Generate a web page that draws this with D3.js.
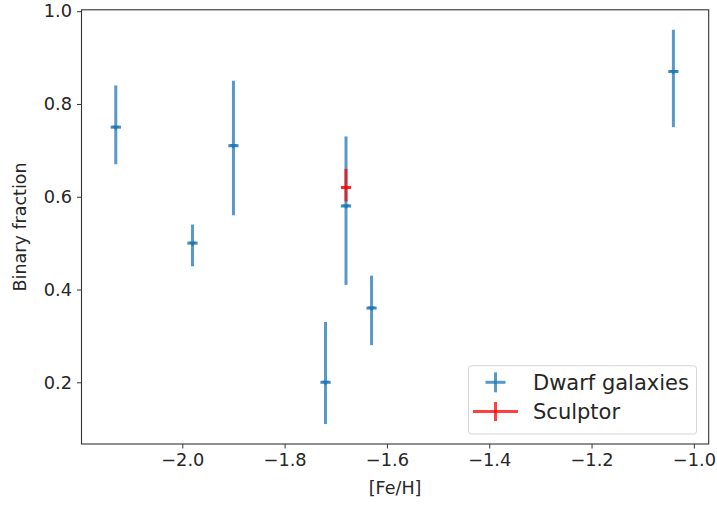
<!DOCTYPE html>
<html>
<head>
<meta charset="utf-8">
<script src="https://cdn.jsdelivr.net/npm/d3@7"></script>
<style>
  html, body { margin: 0; padding: 0; background: #fff; }
  svg { display: block; }
  text { font-family: "DejaVu Sans", sans-serif; fill: #262626; }
</style>
</head>
<body>
<svg id="chart" width="717" height="506"></svg>
<script>
// Dwarf galaxy binary fractions versus metallicity
const galaxyFeH   = [-2.13, -1.98, -1.90, -1.68, -1.63, -1.72, -1.04];
const galaxyFrac  = [0.75, 0.50, 0.71, 0.58, 0.36, 0.20, 0.87];
const galaxyErrUp = [0.09, 0.04, 0.14, 0.15, 0.07, 0.13, 0.09];
const galaxyErrLo = [0.08, 0.05, 0.15, 0.17, 0.08, 0.09, 0.12];
const galaxyXErr  = [0.01, 0.01, 0.01, 0.01, 0.01, 0.01, 0.01];

// Sculptor
const sculptorFeH   = [-1.68];
const sculptorFrac  = [0.62];
const sculptorErrUp = [0.04];
const sculptorErrLo = [0.03];
const sculptorXErr  = [0.01];

const xTicks = [-2.0, -1.8, -1.6, -1.4, -1.2, -1.0];
const yTicks = [0.2, 0.4, 0.6, 0.8, 1.0];
const seriesNames = ["Dwarf galaxies", "Sculptor"];

const blue = "#1f77b4", red = "#ff0000";
const plot = { left: 81.5, right: 708.7, top: 9.8, bottom: 444 };

const svg = d3.select("#chart");
const x = d3.scaleLinear().domain([-2.197, -0.971]).range([plot.left, plot.right]);
const y = d3.scaleLinear().domain([0.067, 1.003]).range([plot.bottom, plot.top]);

const fmt = d => d3.format(".1f")(d).replace("-", "\u2212");

// axes
const xAxis = svg.append("g")
  .attr("transform", `translate(0,${plot.bottom})`)
  .call(d3.axisBottom(x).tickValues(xTicks).tickFormat(fmt).tickSizeOuter(0).tickSize(4.5).tickPadding(5));
const yAxis = svg.append("g")
  .attr("transform", `translate(${plot.left},0)`)
  .call(d3.axisLeft(y).tickValues(yTicks).tickFormat(fmt).tickSizeOuter(0).tickSize(4.5).tickPadding(5));
[xAxis, yAxis].forEach(a => {
  a.select(".domain").remove();
  a.selectAll(".tick line").attr("stroke", "#333").attr("stroke-width", 1);
  a.selectAll(".tick text").style("font-size", "17.8px").attr("fill", "#262626");
});

// frame
svg.append("rect")
  .attr("x", plot.left).attr("y", plot.top)
  .attr("width", plot.right - plot.left).attr("height", plot.bottom - plot.top)
  .attr("fill", "none").attr("stroke", "#333").attr("stroke-width", 1.1);

function drawSeries(fx, fy, up, lo, xe, color, withMarker) {
  const g = svg.append("g");
  const data = fx.map((v, i) => ({ fx: v, fy: fy[i], up: up[i], lo: lo[i], xe: xe[i] }));
  g.selectAll(".ey").data(data).join("line")
    .attr("x1", d => x(d.fx)).attr("x2", d => x(d.fx))
    .attr("y1", d => y(d.fy + d.up)).attr("y2", d => y(d.fy - d.lo))
    .attr("stroke", color).attr("stroke-width", 3).attr("stroke-opacity", 0.75);
  g.selectAll(".ex").data(data).join("line")
    .attr("x1", d => x(d.fx - d.xe)).attr("x2", d => x(d.fx + d.xe))
    .attr("y1", d => y(d.fy)).attr("y2", d => y(d.fy))
    .attr("stroke", color).attr("stroke-width", 3).attr("stroke-opacity", 0.85);
  if (withMarker) {
    g.selectAll(".m").data(data).join("path")
      .attr("d", d => {
        const cx = x(d.fx), cy = y(d.fy);
        return `M${cx - 3.5},${cy - 1.5}L${cx + 3.5},${cy - 1.5}L${cx},${cy + 3}Z`;
      })
      .attr("fill", color);
  }
}
drawSeries(galaxyFeH, galaxyFrac, galaxyErrUp, galaxyErrLo, galaxyXErr, blue, true);
drawSeries(sculptorFeH, sculptorFrac, sculptorErrUp, sculptorErrLo, sculptorXErr, red, false);

// axis labels
svg.append("text").attr("x", (plot.left + plot.right) / 2).attr("y", 494)
  .attr("text-anchor", "middle").style("font-size", "17.5px").text("[Fe/H]");
svg.append("text")
  .attr("transform", `translate(25.5,${(plot.top + plot.bottom) / 2}) rotate(-90)`)
  .attr("text-anchor", "middle").style("font-size", "17.5px").text("Binary fraction");

// legend
const lg = svg.append("g");
lg.append("rect").attr("x", 468.5).attr("y", 365.7).attr("width", 228).attr("height", 68.3)
  .attr("rx", 3).attr("fill", "#fff").attr("fill-opacity", 0.8)
  .attr("stroke", "#d6d6d6").attr("stroke-width", 1);
const legendRows = [
  { name: seriesNames[0], color: blue, cy: 382.3, hw: 10, vh: 10 },
  { name: seriesNames[1], color: red, cy: 411.5, hw: 22.5, vh: 9.5 }
];
legendRows.forEach(r => {
  const cx = 495.5;
  lg.append("line").attr("x1", cx).attr("x2", cx).attr("y1", r.cy - r.vh).attr("y2", r.cy + r.vh)
    .attr("stroke", r.color).attr("stroke-width", 3).attr("stroke-opacity", 0.75);
  lg.append("line").attr("x1", cx - r.hw).attr("x2", cx + r.hw).attr("y1", r.cy).attr("y2", r.cy)
    .attr("stroke", r.color).attr("stroke-width", 3).attr("stroke-opacity", 0.75);
  lg.append("text").attr("x", 533).attr("y", r.cy).attr("dy", "0.36em")
    .style("font-size", "21px").text(r.name);
});
</script>
</body>
</html>
